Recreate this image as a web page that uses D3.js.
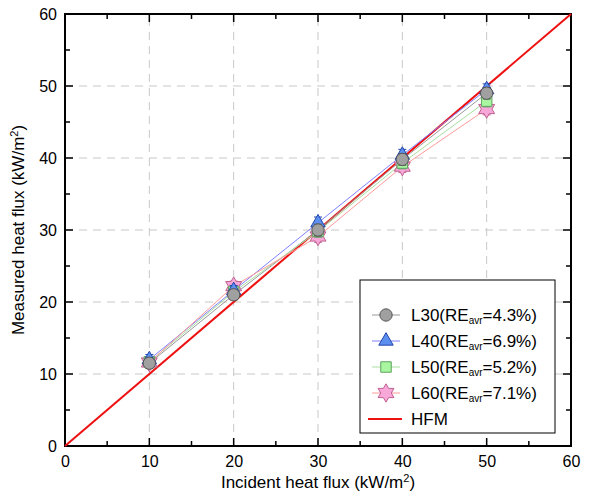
<!DOCTYPE html>
<html>
<head>
<meta charset="utf-8">
<script src="https://cdn.jsdelivr.net/npm/d3@7"></script>
<style>
  body { margin: 0; background: #fff; }
  text { font-family: "Liberation Sans", Arial, sans-serif; }
</style>
</head>
<body>
<script>
// incident heat flux levels
const incident = [10, 20, 30, 40, 50];
// measured values per sensor
const L30 = [11.5, 21.0, 30.0, 39.8, 49.0];
const L40 = [12.0, 21.6, 31.0, 40.4, 49.5];
const L50 = [11.7, 21.4, 29.8, 39.3, 47.9];
const L60 = [11.6, 22.2, 29.1, 38.8, 46.8];
const errBar = [0.7, 0.7, 0.8, 0.8, 0.8];
const seriesNames = ["L30", "L40", "L50", "L60"];
const reAvr = ["4.3%", "6.9%", "5.2%", "7.1%"];
const xTicks = [0, 10, 20, 30, 40, 50, 60];
const yTicks = [0, 10, 20, 30, 40, 50, 60];

const W = 590, H = 497;
const m = { left: 65, right: 19, top: 14, bottom: 51 };

const svg = d3.select("body").append("svg")
  .attr("width", W).attr("height", H);

const x = d3.scaleLinear().domain([0, 60]).range([m.left, W - m.right]);
const y = d3.scaleLinear().domain([0, 60]).range([H - m.bottom, m.top]);

// grid lines
const grid = svg.append("g");
grid.selectAll(".gx").data(xTicks.slice(1, -1)).join("line")
  .attr("x1", d => x(d)).attr("x2", d => x(d))
  .attr("y1", y(0)).attr("y2", y(60))
  .attr("stroke", "#c8c8c8").attr("stroke-dasharray", "8,6");
grid.selectAll(".gy").data(yTicks.slice(1, -1)).join("line")
  .attr("y1", d => y(d)).attr("y2", d => y(d))
  .attr("x1", x(0)).attr("x2", x(60))
  .attr("stroke", "#c8c8c8").attr("stroke-dasharray", "8,6");

// axes with inward ticks
const minor = d3.range(0, 61, 5);
const axB = svg.append("g").attr("transform", `translate(0,${y(0)})`)
  .call(d3.axisBottom(x).tickValues(xTicks).tickSize(0).tickPadding(10));
const axL = svg.append("g").attr("transform", `translate(${x(0)},0)`)
  .call(d3.axisLeft(y).tickValues(yTicks).tickSize(0).tickPadding(8));
[axB, axL].forEach(a => {
  a.select(".domain").remove();
  a.selectAll("text").attr("font-size", 16).attr("fill", "#000")
    .style("font-family", "'Liberation Sans', Arial, sans-serif");
});

const ticks = svg.append("g").attr("stroke", "#000").attr("stroke-width", 1.5);
minor.forEach(v => {
  const len = v % 10 === 0 ? 8 : 5;
  ticks.append("line").attr("x1", x(v)).attr("x2", x(v)).attr("y1", y(0)).attr("y2", y(0) - len);
  ticks.append("line").attr("x1", x(v)).attr("x2", x(v)).attr("y1", y(60)).attr("y2", y(60) + len);
  ticks.append("line").attr("y1", y(v)).attr("y2", y(v)).attr("x1", x(0)).attr("x2", x(0) + len);
  ticks.append("line").attr("y1", y(v)).attr("y2", y(v)).attr("x1", x(60)).attr("x2", x(60) - len);
});

svg.append("rect")
  .attr("x", x(0)).attr("y", y(60))
  .attr("width", x(60) - x(0)).attr("height", y(0) - y(60))
  .attr("fill", "none").attr("stroke", "#000").attr("stroke-width", 2);

// HFM reference line
svg.append("line")
  .attr("x1", x(0)).attr("y1", y(0)).attr("x2", x(60)).attr("y2", y(60))
  .attr("stroke", "#ee1111").attr("stroke-width", 2);

// six-pointed star outline for L60
const hexagram = {
  draw(ctx, size) {
    const r = Math.sqrt(size / 1.3), ri = r / Math.sqrt(3);
    for (let i = 0; i < 12; i++) {
      const a = -Math.PI / 2 + i * Math.PI / 6;
      const rr = i % 2 === 0 ? r : ri;
      const px = rr * Math.cos(a), py = rr * Math.sin(a);
      if (i === 0) ctx.moveTo(px, py); else ctx.lineTo(px, py);
    }
    ctx.closePath();
  }
};

const series = [
  { name: "L30", vals: L30, line: "#999999", fill: "#a0a0a0", stroke: "#555", symbol: d3.symbolCircle, size: 120 },
  { name: "L40", vals: L40, line: "#8080ff", fill: "#5b8ff0", stroke: "#2244aa", symbol: d3.symbolTriangle, size: 90 },
  { name: "L50", vals: L50, line: "#a8e0a0", fill: "#a8f7a0", stroke: "#60a060", symbol: d3.symbolSquare, size: 110 },
  { name: "L60", vals: L60, line: "#ff9a9a", fill: "#f7a8d8", stroke: "#c06090", symbol: hexagram, size: 110 }
];

const lineGen = d3.line().x((d, i) => x(incident[i])).y(d => y(d));

series.forEach(s => {
  svg.append("path").datum(s.vals)
    .attr("d", lineGen).attr("fill", "none")
    .attr("stroke", s.line).attr("stroke-width", 1);
});

// draw in reverse so L30 ends up on top
series.slice().reverse().forEach(s => {
  const g = svg.append("g");
  s.vals.forEach((v, i) => {
    const cx = x(incident[i]), e = errBar[i];
    g.append("line").attr("x1", cx).attr("x2", cx)
      .attr("y1", y(v - e)).attr("y2", y(v + e))
      .attr("stroke", s.stroke).attr("stroke-width", 1);
    [v - e, v + e].forEach(w => g.append("line")
      .attr("x1", cx - 4).attr("x2", cx + 4).attr("y1", y(w)).attr("y2", y(w))
      .attr("stroke", s.stroke).attr("stroke-width", 1));
    g.append("path")
      .attr("d", d3.symbol(s.symbol, s.size)())
      .attr("transform", `translate(${cx},${y(v)})`)
      .attr("fill", s.fill).attr("stroke", s.stroke).attr("stroke-width", 1);
  });
});

// legend
const lg = svg.append("g").attr("transform", "translate(360,280)");
lg.append("rect").attr("width", 195).attr("height", 153)
  .attr("fill", "#fff").attr("stroke", "#000").attr("stroke-width", 1);

series.forEach((s, i) => {
  const yy = 35 + i * 26;
  lg.append("line").attr("x1", 12).attr("x2", 40).attr("y1", yy).attr("y2", yy)
    .attr("stroke", s.line).attr("stroke-width", 1);
  lg.append("path").attr("d", d3.symbol(s.symbol, s.size)())
    .attr("transform", `translate(26,${yy})`)
    .attr("fill", s.fill).attr("stroke", s.stroke);
  const t = lg.append("text").attr("x", 51).attr("y", yy + 6)
    .attr("font-size", 17).attr("fill", "#000");
  t.append("tspan").text(`${seriesNames[i]}(RE`);
  t.append("tspan").attr("font-size", 10).attr("dy", 3).text("avr");
  t.append("tspan").attr("dy", -3).text(`=${reAvr[i]})`);
});
const hy = 35 + 4 * 26;
lg.append("line").attr("x1", 8).attr("x2", 42).attr("y1", hy).attr("y2", hy)
  .attr("stroke", "#ee1111").attr("stroke-width", 2);
lg.append("text").attr("x", 51).attr("y", hy + 6).attr("font-size", 17).text("HFM");

// axis titles
const xt = svg.append("text").attr("x", x(30)).attr("y", H - 9)
  .attr("text-anchor", "middle").attr("font-size", 17);
xt.append("tspan").text("Incident heat flux (kW/m");
xt.append("tspan").attr("font-size", 11).attr("dy", -6).text("2");
xt.append("tspan").attr("dy", 6).text(")");

const yt = svg.append("text")
  .attr("transform", `translate(24,${y(30)}) rotate(-90)`)
  .attr("text-anchor", "middle").attr("font-size", 17);
yt.append("tspan").text("Measured heat flux (kW/m");
yt.append("tspan").attr("font-size", 11).attr("dy", -6).text("2");
yt.append("tspan").attr("dy", 6).text(")");
</script>
</body>
</html>
